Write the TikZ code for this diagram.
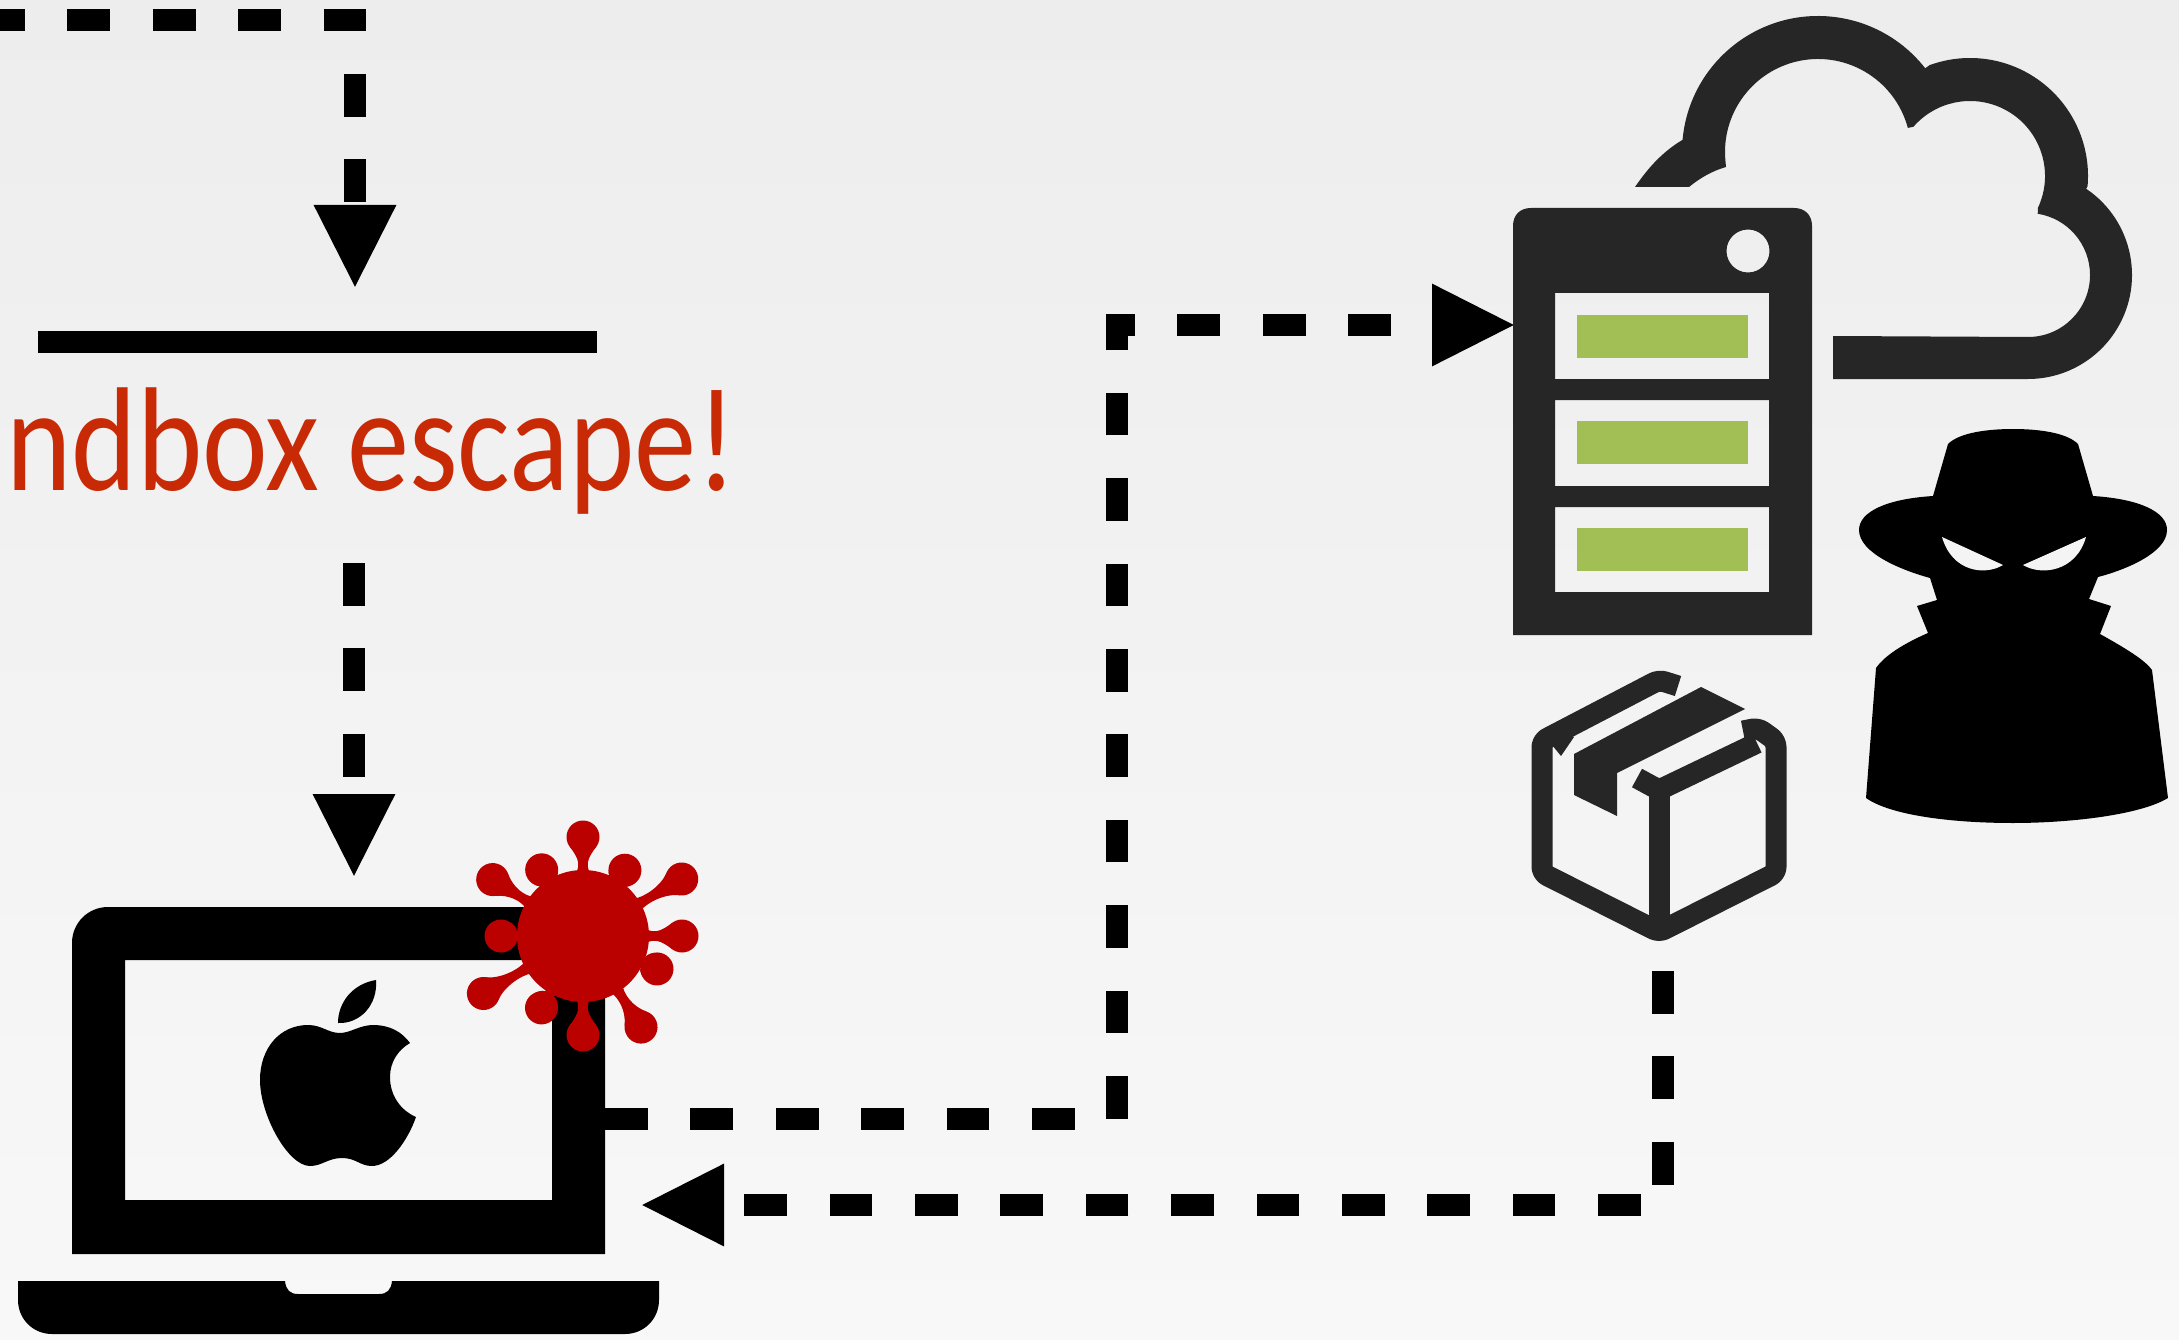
\documentclass[tikz,border=0pt]{standalone}
\usepackage{fontspec}
\usetikzlibrary{arrows.meta}
\newfontfamily\notefont{Carlito}
\definecolor{bgtop}{HTML}{EDEDED}
\definecolor{bgbot}{HTML}{F8F8F8}
\definecolor{icondark}{HTML}{262626}
\definecolor{slotgreen}{HTML}{A2BF55}
\definecolor{virusred}{HTML}{BB0000}
\definecolor{notered}{HTML}{C92A06}
\tikzset{
  flowline/.style={line width=22pt,dash pattern=on 42.7pt off 42.7pt,-{Triangle[length=84pt,width=76pt]}},
  slot/.style={fill=bgtop!40!bgbot},
  boxline/.style={icondark,line width=21pt,line join=round,rounded corners=6pt}
}
\begin{document}
\begin{tikzpicture}[x=1pt,y=-1pt]
\useasboundingbox (0,0) rectangle (2179,1340);
\clip (0,0) rectangle (2179,1340);
\shade[top color=bgtop,bottom color=bgbot] (0,0) rectangle (2179,1340);

\node (lid) [fill=black,inner sep=0pt,minimum width=559pt,minimum height=22pt] at (317.5,342) {};
\node (note) [anchor=base east,text=notered,inner sep=0pt,xscale=0.84,font=\notefont\fontsize{148}{150}\selectfont] at (737,490) {Sandbox escape!};

\coordinate (start) at (0,20);
\coordinate (lidT) at (355,289);
\coordinate (noteB) at (354,563);
\coordinate (laptopT) at (354,878);
\coordinate (laptopR) at (605,1119);
\coordinate (laptopI) at (640,1205);
\coordinate (serverL) at (1516,325);
\coordinate (boxB) at (1663,971);

\draw[flowline,dash phase=18pt] (start) -| (lidT);
\draw[flowline] (noteB) -- (laptopT);
\draw[flowline] (laptopR) -- ++(512,0) |- (serverL);
\draw[flowline] (boxB) |- (laptopI);

\fill[black,even odd rule] (72,1254) -- (72,943) .. controls (72,923) and (88,907) .. (108,907) -- (569,907) .. controls (589,907) and (605,923) .. (605,943) -- (605,1254) -- cycle (125,960) rectangle (552,1200);
\fill[black] (18,1281) -- (285,1281) .. controls (286,1290) and (290,1294) .. (298,1294) -- (379,1294) .. controls (387,1294) and (391,1290) .. (392,1281) -- (659,1281) -- (659,1300) .. controls (659,1319) and (644,1334) .. (625,1334) -- (52,1334) .. controls (33,1334) and (18,1319) .. (18,1300) -- cycle;
\fill[black] (340,1033) .. controls (328,1033) and (322,1025) .. (308,1025) .. controls (280,1025) and (260,1048) .. (260,1080) .. controls (260,1115) and (288,1166) .. (310,1166) .. controls (322,1166) and (328,1158) .. (342,1158) .. controls (356,1158) and (360,1166) .. (372,1166) .. controls (390,1166) and (408,1140) .. (416,1117) .. controls (400,1110) and (390,1095) .. (390,1077) .. controls (390,1062) and (398,1050) .. (410,1043) .. controls (402,1032) and (390,1025) .. (373,1025) .. controls (360,1025) and (350,1033) .. (340,1033) -- cycle;
\fill[black] (376,980) .. controls (378,1005) and (360,1024) .. (338,1023) .. controls (338,1003) and (352,984) .. (376,980) -- cycle;

\fill[virusred] (583,936) circle (66);
\foreach \va/\vr in {90/99,148/106.5,30/114,0/99,-150/115,-90/99,-57.5/108,122/78,57.5/78,180/82,-24/81,-120/83} {
  \begin{scope}[shift={(583,936)},rotate=\va]
    \fill[virusred] (62,-7) .. controls (72,-3) and ({\vr-22},-4) .. ({\vr-10},-13) -- ({\vr-10},13) .. controls ({\vr-22},4) and (72,3) .. (62,7) -- cycle;
    \fill[virusred] (\vr,0) circle (16.5);
  \end{scope}
}

\fill[icondark] (1635,187) .. controls (1650,165) and (1665,150) .. (1684,139)
  -- ([shift={(1818,152)}]185:136) arc[start angle=185,end angle=322,radius=136]
  -- ([shift={(1970,176)}]250:118) arc[start angle=250,end angle=365,radius=118]
  -- ([shift={(2028,275)}]304:104) arc[start angle=304,end angle=450,radius=104]
  -- (1833,379) -- (1833,336) -- (2028,337)
  arc[start angle=90,end angle=-81,radius=62]
  -- ([shift={(1970,176)}]25:75) arc[start angle=25,end angle=-139,radius=75]
  -- ([shift={(1818,152)}]-15:93) arc[start angle=-15,end angle=-185,radius=93]
  -- (1726,167) .. controls (1712,171) and (1700,178) .. (1689,187) -- cycle;

\fill[icondark,even odd rule] (1513,635) -- (1513,226) .. controls (1513,215) and (1520,208) .. (1531,208) -- (1794,208) .. controls (1805,208) and (1812,215) .. (1812,226) -- (1812,635) -- cycle
  (1748,251) circle (21.5)
  (1555,293) rectangle (1769,379) (1555,400) rectangle (1769,486) (1555,507) rectangle (1769,592);
\foreach \sy in {315,421,528} {
  \fill[slotgreen] (1577,\sy) rectangle (1748,\sy+43);
}

\fill[black] (1948,444) .. controls (1960,432) and (1990,429) .. (2013,429) .. controls (2036,429) and (2066,432) .. (2078,444) -- (2093,496) .. controls (2140,499) and (2167,512) .. (2167,530) .. controls (2167,553) and (2125,570) .. (2098,577) -- (2089,599) -- (2111,606) -- (2100,634) .. controls (2125,648) and (2145,660) .. (2152,670) -- (2168,798) .. controls (2140,815) and (2070,823) .. (2013,823) .. controls (1950,823) and (1890,815) .. (1866,798) -- (1876,668) .. controls (1885,655) and (1905,643) .. (1928,633) -- (1917,606) -- (1937,600) -- (1930,578) .. controls (1901,570) and (1859,553) .. (1859,530) .. controls (1859,512) and (1886,499) .. (1933,496) -- cycle;
\fill[slot] (1942,537) -- (2003,565) .. controls (1985,576) and (1952,572) .. (1942,537) -- cycle;
\fill[slot] (2086,537) -- (2023,565) .. controls (2041,576) and (2076,572) .. (2086,537) -- cycle;

\draw[boxline] (1678,686) -- (1659,680) -- (1542,741) -- (1542,873) -- (1659,932) -- (1776,873) -- (1776,741) -- (1758,728) -- (1743,731);
\draw[boxline] (1757,743) -- (1659,790) -- (1637,778);
\draw[boxline] (1659,790) -- (1659,932);
\fill[icondark] (1701,687) -- (1745,709) -- (1617,773) -- (1617,816) -- (1574,795) -- (1574,754) -- cycle;
\fill[icondark] (1552,745) -- (1561,756) -- (1574,737) -- (1565,733) -- cycle;
\end{tikzpicture}
\end{document}
